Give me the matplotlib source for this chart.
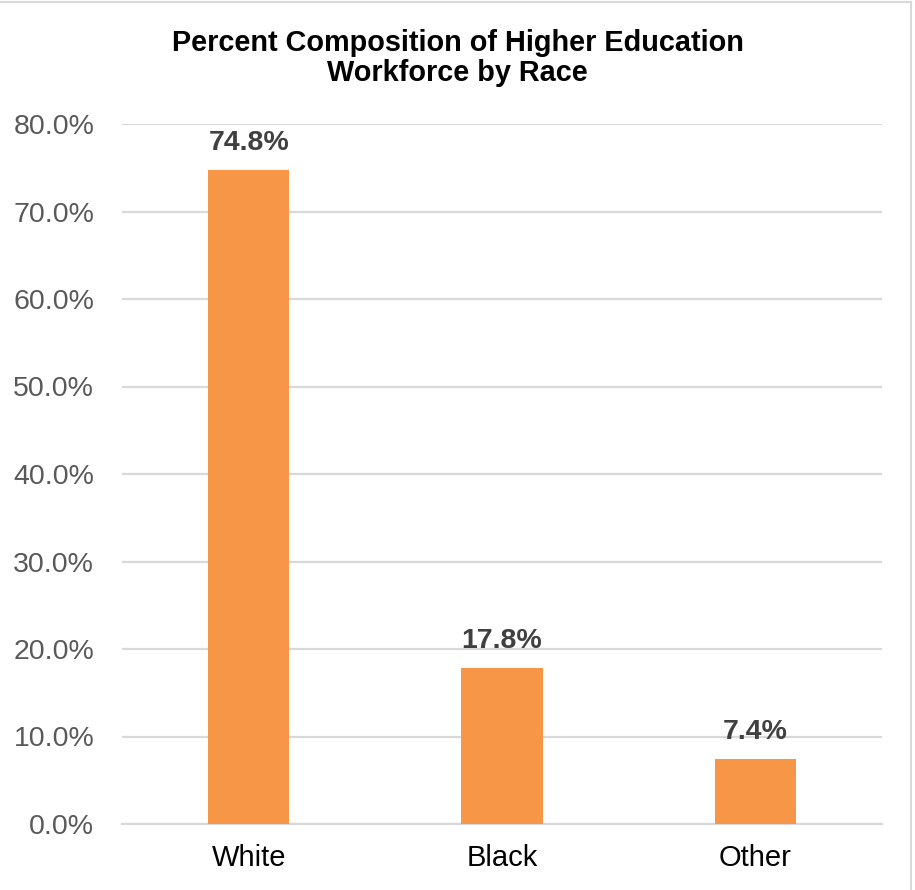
import matplotlib.pyplot as plt
from matplotlib.ticker import FuncFormatter
from matplotlib.lines import Line2D

# Data
categories = ['White', 'Black', 'Other']
percents = [74.8, 17.8, 7.4]
y_ticks = [0, 10, 20, 30, 40, 50, 60, 70, 80]

plt.rcParams['font.family'] = ['Liberation Sans', 'DejaVu Sans']

fig = plt.figure(figsize=(9.15, 8.9), dpi=100)
ax = fig.add_axes([122 / 915, 1 - 824 / 890, 760 / 915, 700 / 890])

bars = ax.bar(categories, percents, width=0.32, color='#F79646', zorder=3)

# value labels above bars
for rect, val in zip(bars, percents):
    ax.annotate(f'{val:.1f}%', (rect.get_x() + rect.get_width() / 2, rect.get_height()),
                xytext=(0, 10), textcoords='offset points', ha='center', va='bottom',
                fontsize=20.5, fontweight='bold', color='#404040')

ax.set_ylim(0, 80)
ax.set_xlim(-0.5, 2.5)
ax.set_yticks(y_ticks)
ax.yaxis.set_major_formatter(FuncFormatter(lambda v, p: f'{v:.1f}%'))
ax.grid(axis='y', color='#D9D9D9', linewidth=1.6, zorder=0)
ax.tick_params(axis='y', length=0, pad=20, labelsize=20.5, labelcolor='#595959')
ax.tick_params(axis='x', length=0, pad=14.5, labelsize=21, labelcolor='black')
for s in ['top', 'right', 'left']:
    ax.spines[s].set_visible(False)
ax.spines['bottom'].set_color('#D9D9D9')
ax.spines['bottom'].set_linewidth(1.6)

fig.text(0.5, 1 - 43 / 890, 'Percent Composition of Higher Education', ha='center', va='center',
         fontsize=20.8, fontweight='bold', color='black')
fig.text(0.5, 1 - 73 / 890, 'Workforce by Race', ha='center', va='center',
         fontsize=20.8, fontweight='bold', color='black')

# light border at top and right edges
fig.add_artist(Line2D([0, 910.5 / 915], [1 - 1.5 / 890, 1 - 1.5 / 890], color='#D9D9D9', linewidth=1.5))
fig.add_artist(Line2D([910.5 / 915, 910.5 / 915], [0, 1 - 1.5 / 890], color='#D9D9D9', linewidth=1.5))

fig.savefig('out.png', dpi=100)
